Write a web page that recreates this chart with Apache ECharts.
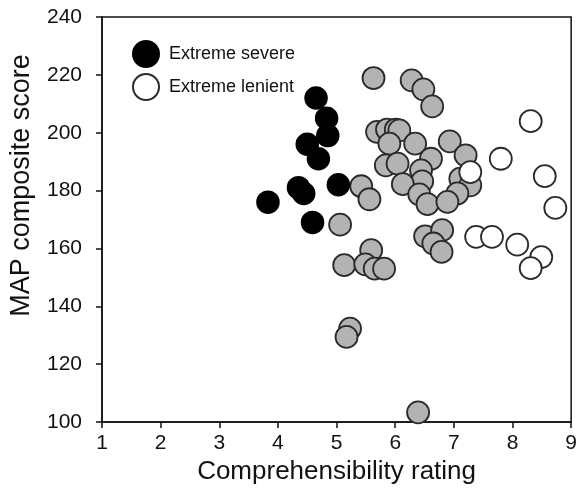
<!DOCTYPE html>
<html>
<head>
<meta charset="utf-8">
<script src="https://cdn.jsdelivr.net/npm/echarts@6/dist/echarts.min.js"></script>
<style>
  html, body { margin: 0; padding: 0; background: #fff; }
  #chart { width: 580px; height: 498px; }
</style>
</head>
<body>
<div id="chart"></div>
<script>
// extreme raters
var severeX = [4.65, 4.83, 4.85, 4.50, 4.69, 5.03, 4.35, 4.44, 3.83, 4.59];
var severeY = [212, 205, 199, 196, 191, 182, 181, 179, 176, 169];
var lenientX = [8.31, 7.80, 7.28, 8.55, 8.73, 7.38, 7.65, 8.08, 8.49, 8.31];
var lenientY = [204, 191, 186.4, 185, 174, 164, 164, 161.3, 157, 153.2];
// other raters (grey)
var otherX = [5.63, 6.28, 6.48, 6.63, 5.69, 5.86, 6.01, 6.07, 5.90, 6.34, 6.93, 5.84, 6.04,
    6.61, 7.20, 6.44, 6.46, 6.13, 7.11, 7.28, 7.06, 6.41, 6.55, 6.89, 5.42, 5.56, 5.06,
    6.51, 6.80, 6.65, 6.79, 5.59, 5.13, 5.49, 5.65, 5.81, 5.23, 5.17, 6.39];
var otherY = [218.9, 218.1, 215, 209.1, 200.3, 201.1, 201.1, 200.8, 196.2, 196.2, 197, 188.7, 189.3,
    191, 192.2, 187, 183.2, 182.2, 184.1, 181.8, 179, 178.7, 175.3, 176.1, 181.5, 177, 168.2,
    164.2, 166.3, 161.7, 158.8, 159.4, 154.2, 154.5, 153, 153, 132.3, 129.4, 103.3];

var xTicks = [1, 9, 1];    // min, max, step
var yTicks = [100, 240, 20];

function pairs(xs, ys) {
    return xs.map(function (x, i) { return [x, ys[i]]; });
}

var chart = echarts.init(document.getElementById('chart'));
var font = 'Liberation Sans, Arial, sans-serif';
var axisCommon = {
    type: 'value',
    axisLine: { show: true, lineStyle: { color: '#111', width: 1.5 } },
    axisTick: { show: true, inside: false, length: 6, lineStyle: { color: '#111', width: 1.5 } },
    splitLine: { show: false },
    axisLabel: { color: '#111', fontSize: 21, fontFamily: font },
    nameLocation: 'middle',
    nameTextStyle: { color: '#111', fontSize: 26, fontFamily: font }
};

chart.setOption({
    animation: false,
    grid: {
        left: 102, right: 5, top: 17, bottom: 76,
        show: true, borderColor: '#111', borderWidth: 1.5, backgroundColor: 'transparent'
    },
    legend: {
        data: ['Extreme severe', 'Extreme lenient'],
        orient: 'vertical',
        left: 127, top: 35,
        itemWidth: 26, itemHeight: 26, itemGap: 5,
        textStyle: { color: '#111', fontSize: 18, fontFamily: font, padding: [0, 0, 0, 5] }
    },
    xAxis: Object.assign({}, axisCommon, {
        min: xTicks[0], max: xTicks[1], interval: xTicks[2],
        name: 'Comprehensibility rating', nameGap: 36,
        axisLabel: Object.assign({}, axisCommon.axisLabel, { margin: 11 })
    }),
    yAxis: Object.assign({}, axisCommon, {
        min: yTicks[0], max: yTicks[1], interval: yTicks[2],
        name: 'MAP composite score', nameGap: 67,
        nameTextStyle: Object.assign({}, axisCommon.nameTextStyle, { fontSize: 27, padding: [0, 0, 0, 68] }),
        axisLabel: Object.assign({}, axisCommon.axisLabel, { margin: 20 })
    }),
    series: [
        {
            name: 'Other', type: 'scatter', symbol: 'circle', symbolSize: 22,
            itemStyle: { color: '#b3b3b3', borderColor: '#2a2a2a', borderWidth: 1.8, opacity: 1 },
            data: pairs(otherX, otherY)
        },
        {
            name: 'Extreme severe', type: 'scatter', symbol: 'circle', symbolSize: 22,
            itemStyle: { color: '#000', borderColor: '#000', borderWidth: 1.5, opacity: 1 },
            data: pairs(severeX, severeY)
        },
        {
            name: 'Extreme lenient', type: 'scatter', symbol: 'circle', symbolSize: 22,
            itemStyle: { color: '#fff', borderColor: '#2a2a2a', borderWidth: 1.8, opacity: 1 },
            data: pairs(lenientX, lenientY)
        }
    ]
});
</script>
</body>
</html>
